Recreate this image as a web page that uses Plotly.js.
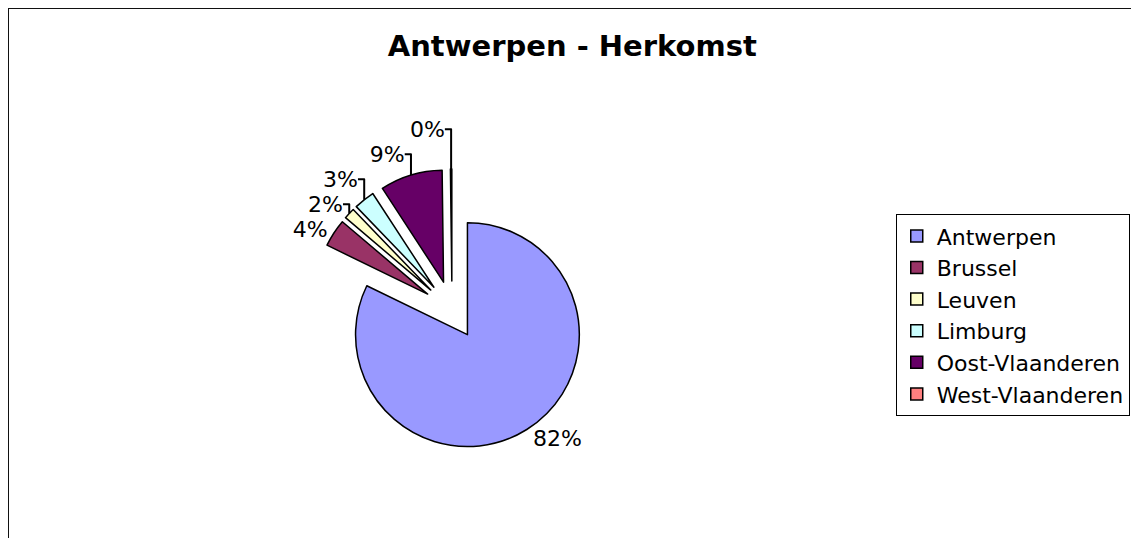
<!DOCTYPE html>
<html>
<head>
<meta charset="utf-8">
<script src="https://cdn.plot.ly/plotly-3.0.1.min.js"></script>
<style>
html,body{margin:0;padding:0;background:#fff;}
#wrap{position:relative;width:1131px;height:538px;overflow:hidden;}
#chart{width:1131px;height:538px;}
#frame{position:absolute;left:8px;top:8px;width:1200px;height:600px;border-top:1.5px solid #111;border-left:1.5px solid #111;pointer-events:none;}
</style>
</head>
<body>
<div id="wrap"><div id="chart"></div><div id="frame"></div></div>
<script>
var categories = ["Antwerpen", "Brussel", "Leuven", "Limburg", "Oost-Vlaanderen", "West-Vlaanderen"];
var values = [82.2, 4.0, 1.6, 3.0, 9.0, 0.2];
var colors = ["#9999FF", "#993366", "#FFFFCC", "#CCFFFF", "#660066", "#FF8080"];
var pulls = [0.26, 0.26, 0.26, 0.26, 0.26, 0.26];

var trace = {
  type: "pie",
  labels: categories,
  values: values,
  sort: false,
  direction: "clockwise",
  rotation: 0,
  pull: pulls,
  marker: {colors: colors, line: {color: "#000", width: 1.5}},
  textposition: "outside",
  texttemplate: "%{percent:.0%}",
  textfont: {family: "DejaVu Sans", size: 22, color: "#000"},
  outsidetextfont: {family: "DejaVu Sans", size: 22, color: "#000"},
  hoverinfo: "label+percent",
  domain: {x: [0.275, 0.5243], y: [0.1617, 0.6859]},
  automargin: false
};

var layout = {
  width: 1131, height: 538,
  margin: {l: 0, r: 0, t: 0, b: 0},
  paper_bgcolor: "#fff",
  title: {text: "<b>Antwerpen - Herkomst</b>", font: {family: "DejaVu Sans", size: 29, color: "#000"}, x: 0.506, xanchor: "center", y: 0.915, yanchor: "middle"},
  showlegend: true,
  legend: {
    x: 0.792, xanchor: "left", y: 0.602, yanchor: "top",
    bordercolor: "#000", borderwidth: 1,
    font: {family: "DejaVu Sans", size: 22, color: "#000"},
    bgcolor: "#fff"
  }
};

Plotly.newPlot("chart", [trace], layout, {displayModeBar: false, staticPlot: true});
</script>
</body>
</html>
